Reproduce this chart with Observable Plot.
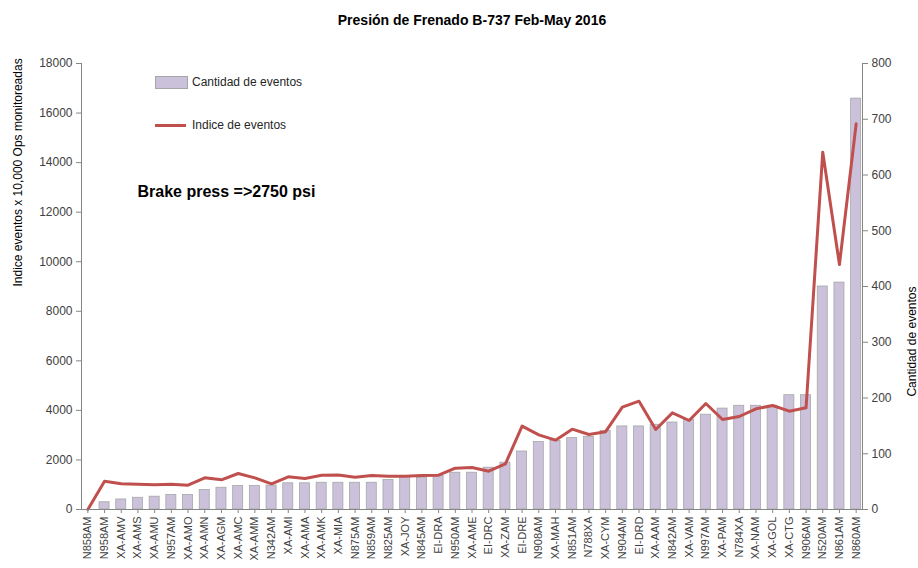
<!DOCTYPE html>
<html><head><meta charset="utf-8">
<script src="https://cdn.jsdelivr.net/npm/d3@7"></script>
<script src="https://cdn.jsdelivr.net/npm/@observablehq/plot@0.6"></script>
<style>
body{margin:0;background:#fff;}
#wrap{position:relative;width:918px;height:568px;font-family:"Liberation Sans",Arial,sans-serif;}
.sw{position:absolute;}
.lt{position:absolute;font-size:12px;color:#262626;line-height:14px;white-space:nowrap;}
</style></head><body><div id="wrap"></div>
<script>
const aircraft = ["N858AM","N958AM","XA-AMV","XA-AMS","XA-AMU","N957AM","XA-AMO","XA-AMN","XA-AGM","XA-AMC","XA-AMM","N342AM","XA-AMI","XA-AMA","XA-AMK","XA-MIA","N875AM","N859AM","N825AM","XA-JOY","N845AM","EI-DRA","N950AM","XA-AME","EI-DRC","XA-ZAM","EI-DRE","N908AM","XA-MAH","N851AM","N788XA","XA-CYM","N904AM","EI-DRD","XA-AAM","N842AM","XA-VAM","N997AM","XA-PAM","N784XA","XA-NAM","XA-GOL","XA-CTG","N906AM","N520AM","N861AM","N860AM"];
const cantidad = [0,13,18,21,23,26,26,35,39,42,42,43,47,47,48,48,48,48,53,58,57,60,66,66,75,84,104,121,123,128,130,141,149,149,152,156,161,170,181,186,186,186,205,205,400,407,737];
const indice = [0,1142,1037,1022,995,1022,981,1278,1198,1453,1278,1037,1318,1251,1385,1392,1305,1372,1345,1345,1372,1385,1668,1695,1547,1843,3364,3014,2798,3242,3027,3140,4130,4372,3228,3900,3592,4278,3632,3753,4063,4197,3968,4104,14420,9887,15565];
const leftTicks = d3.range(0, 18001, 2000);
const rightTicks = d3.range(0, 801, 100);
const title = "Presión de Frenado B-737 Feb-May 2016";
const leftLabel = "Indice eventos x 10,000 Ops monitoreadas";
const rightLabel = "Cantidad de eventos";
const note = "Brake press =>2750 psi";
const legendNames = ["Cantidad de eventos", "Indice de eventos"];

const k = 18000 / 800;
const data = aircraft.map((a, i) => ({a, c: cantidad[i], idx: indice[i]}));
const axisColor = "#868686";

const chart = Plot.plot({
  width: 918, height: 568,
  marginLeft: 81, marginRight: 56, marginTop: 63, marginBottom: 59,
  style: {fontFamily: '"Liberation Sans", Arial, sans-serif', fontSize: "11px", color: "#404040", background: "white"},
  x: {domain: aircraft, paddingInner: 0.4, paddingOuter: 0.08},
  y: {domain: [0, 18000]},
  marks: [
    Plot.barY(data, {x: "a", y: d => d.c * k, fill: "#ccc1da", stroke: "#a6a6a6", strokeWidth: 0.8}),
    Plot.line(data, {x: "a", y: "idx", stroke: "#c0504d", strokeWidth: 3, strokeLinejoin: "round"}),
    Plot.axisY({anchor: "left", ticks: leftTicks, tickSize: 5, tickPadding: 4, stroke: axisColor, label: null, fontSize: 12, tickFormat: d => String(d)}),
    Plot.axisY({anchor: "right", ticks: rightTicks.map(v => v * k), tickFormat: v => String(Math.round(v / k)), tickSize: 5, tickPadding: 4, stroke: axisColor, label: null, fontSize: 12}),
    Plot.axisX({tickRotate: -90, tickSize: 4, tickPadding: 3, stroke: axisColor, label: null, fontSize: 11}),
    Plot.frame({anchor: "left", stroke: axisColor}),
    Plot.frame({anchor: "right", stroke: axisColor}),
    Plot.ruleY([0], {stroke: axisColor}),
    Plot.text([title], {frameAnchor: "top", dy: -48, fontWeight: "bold", fontSize: 14, fill: "#000"}),
    Plot.text([note], {frameAnchor: "top-left", dx: 56, dy: 122, textAnchor: "start", fontWeight: "bold", fontSize: 16, fill: "#000"}),
    Plot.text([leftLabel], {frameAnchor: "left", dx: -63, rotate: -90, fontSize: 12, fill: "#000"}),
    Plot.text([rightLabel], {frameAnchor: "right", dx: 50, rotate: -90, fontSize: 12, fill: "#000"})
  ]
});
const wrap = document.getElementById("wrap");
wrap.appendChild(chart);

// legend overlay
const sw1 = document.createElement("div");
sw1.className = "sw";
Object.assign(sw1.style, {left: "155px", top: "76px", width: "31px", height: "11px", background: "#ccc1da", border: "1px solid #a6a6a6"});
wrap.appendChild(sw1);
const t1 = document.createElement("div");
t1.className = "lt"; t1.textContent = legendNames[0];
Object.assign(t1.style, {left: "192px", top: "75px"});
wrap.appendChild(t1);
const sw2 = document.createElement("div");
sw2.className = "sw";
Object.assign(sw2.style, {left: "155px", top: "124px", width: "31px", height: "3px", background: "#c0504d"});
wrap.appendChild(sw2);
const t2 = document.createElement("div");
t2.className = "lt"; t2.textContent = legendNames[1];
Object.assign(t2.style, {left: "192px", top: "118px"});
wrap.appendChild(t2);
</script></body></html>
